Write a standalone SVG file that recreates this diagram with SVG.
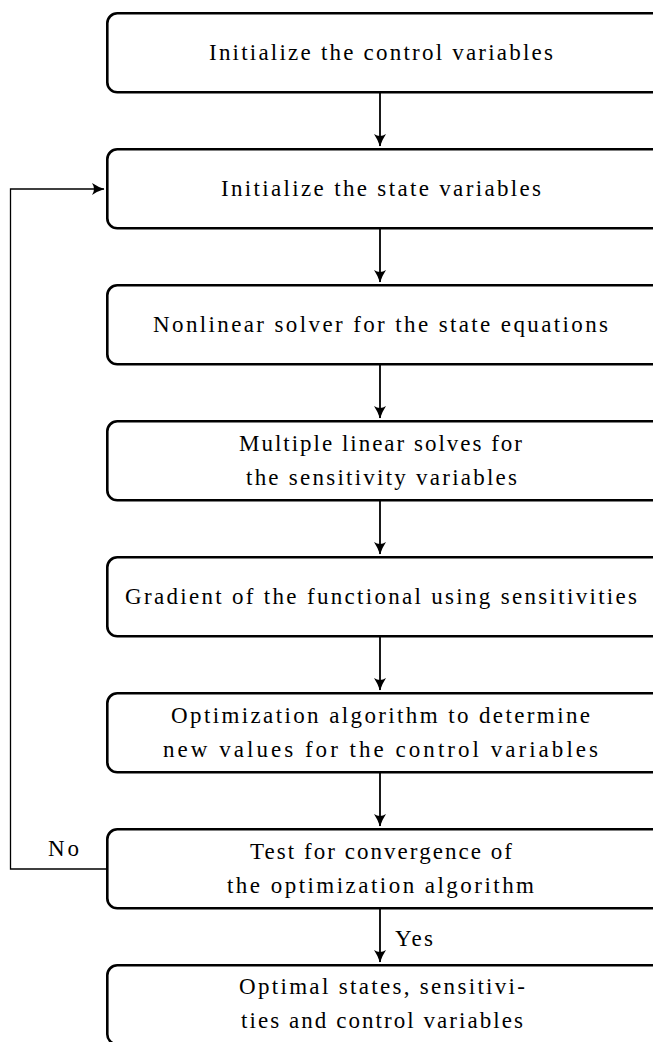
<svg xmlns="http://www.w3.org/2000/svg" width="653" height="1042" viewBox="0 0 653 1042">
<defs>
<style>
.box{fill:#fff;stroke:#000;stroke-width:2.6}
.c{fill:none;stroke:#000;stroke-width:1.8}
.loop{fill:none;stroke:#000;stroke-width:1.3}
text{font-family:"Liberation Serif","Times New Roman",serif;font-size:23px;fill:#000}
.t{text-anchor:middle}
</style>
<marker id="ah" markerUnits="userSpaceOnUse" markerWidth="16" markerHeight="14" viewBox="-13 -7 14 14" refX="0" refY="0" orient="auto">
<path d="M0.5,0 Q-6,-2 -12,-6 Q-8,0 -12,6 Q-6,2 0.5,0 Z" fill="#000"/>
</marker>
</defs>
<g id="connectors">
<line class="c" x1="380" y1="93" x2="380" y2="146" marker-end="url(#ah)"/>
<line class="c" x1="380" y1="229" x2="380" y2="282" marker-end="url(#ah)"/>
<line class="c" x1="380" y1="365" x2="380" y2="418" marker-end="url(#ah)"/>
<line class="c" x1="380" y1="501" x2="380" y2="554" marker-end="url(#ah)"/>
<line class="c" x1="380" y1="637" x2="380" y2="690" marker-end="url(#ah)"/>
<line class="c" x1="380" y1="773" x2="380" y2="826" marker-end="url(#ah)"/>
<line class="c" x1="380" y1="909" x2="380" y2="962" marker-end="url(#ah)"/>
<polyline class="loop" points="107,869 10.5,869 10.5,189 104,189" marker-end="url(#ah)"/>
<text x="48" y="856" textLength="31" lengthAdjust="spacing">No</text>
<text x="395" y="946" textLength="38" lengthAdjust="spacing">Yes</text>
</g>
<g id="n1">
<rect class="box" x="107.3" y="13.3" width="555" height="79" rx="10"/>
<text class="t" x="381" y="60" textLength="344" lengthAdjust="spacing">Initialize the control variables</text>
</g>
<g id="n2">
<rect class="box" x="107.3" y="149.3" width="555" height="79" rx="10"/>
<text class="t" x="381" y="196" textLength="320" lengthAdjust="spacing">Initialize the state variables</text>
</g>
<g id="n3">
<rect class="box" x="107.3" y="285.3" width="555" height="79" rx="10"/>
<text class="t" x="380.5" y="332" textLength="455" lengthAdjust="spacing">Nonlinear solver for the state equations</text>
</g>
<g id="n4">
<rect class="box" x="107.3" y="421.3" width="555" height="79" rx="10"/>
<text class="t" x="380.5" y="451" textLength="283" lengthAdjust="spacing">Multiple linear solves for</text>
<text class="t" x="381.5" y="485" textLength="271" lengthAdjust="spacing">the sensitivity variables</text>
</g>
<g id="n5">
<rect class="box" x="107.3" y="557.3" width="555" height="79" rx="10"/>
<text class="t" x="381" y="604" textLength="512" lengthAdjust="spacing">Gradient of the functional using sensitivities</text>
</g>
<g id="n6">
<rect class="box" x="107.3" y="693.3" width="555" height="79" rx="10"/>
<text class="t" x="380.5" y="723" textLength="419" lengthAdjust="spacing">Optimization algorithm to determine</text>
<text class="t" x="380.5" y="757" textLength="435" lengthAdjust="spacing">new values for the control variables</text>
</g>
<g id="n7">
<rect class="box" x="107.3" y="829.3" width="555" height="79" rx="10"/>
<text class="t" x="381" y="859" textLength="262" lengthAdjust="spacing">Test for convergence of</text>
<text class="t" x="380.5" y="893" textLength="307" lengthAdjust="spacing">the optimization algorithm</text>
</g>
<g id="n8">
<rect class="box" x="107.3" y="965.3" width="555" height="79" rx="10"/>
<text class="t" x="382" y="994" textLength="286" lengthAdjust="spacing">Optimal states, sensitivi-</text>
<text class="t" x="382" y="1028" textLength="282" lengthAdjust="spacing">ties and control variables</text>
</g>
</svg>
